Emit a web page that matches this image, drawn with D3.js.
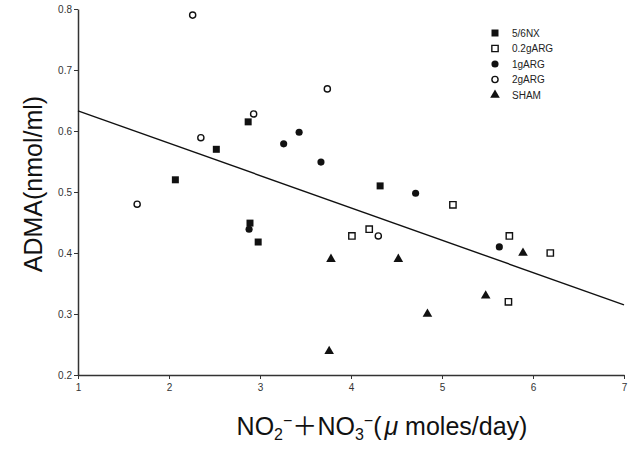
<!DOCTYPE html>
<html>
<head>
<meta charset="utf-8">
<script src="https://cdn.jsdelivr.net/npm/d3@7"></script>
<style>
  body { margin: 0; background: #fff; }
  svg { display: block; font-family: "Liberation Sans", Arial, sans-serif; }
</style>
</head>
<body>
<svg width="629" height="453"></svg>
<script>
// groups, in legend order
const groups = ["5/6NX", "0.2gARG", "1gARG", "2gARG", "SHAM"];

// NO2- + NO3- (x) and ADMA (y) for every group
const nxX    = [2.07, 2.52, 2.87, 2.89, 2.98, 4.32];
const nxY    = [0.52, 0.57, 0.615, 0.449, 0.418, 0.51];
const arg02X = [4.01, 4.20, 5.12, 5.74, 5.73, 6.19];
const arg02Y = [0.428, 0.439, 0.479, 0.428, 0.32, 0.40];
const arg1X  = [2.88, 3.26, 3.43, 3.67, 4.71, 5.63];
const arg1Y  = [0.439, 0.579, 0.598, 0.549, 0.498, 0.41];
const arg2X  = [1.65, 2.26, 2.35, 2.93, 3.74, 4.30];
const arg2Y  = [0.48, 0.79, 0.589, 0.628, 0.669, 0.428];
const shamX  = [3.78, 3.76, 4.52, 4.84, 5.48, 5.89];
const shamY  = [0.39, 0.239, 0.39, 0.30, 0.33, 0.40];

// regression line, read at the ends of the x axis
const fitX = [1, 7];
const fitY = [0.633, 0.315];

const xTicks = [1, 2, 3, 4, 5, 6, 7];
const yTicks = [0.2, 0.3, 0.4, 0.5, 0.6, 0.7, 0.8];

const seriesX = [nxX, arg02X, arg1X, arg2X, shamX];
const seriesY = [nxY, arg02Y, arg1Y, arg2Y, shamY];

const svg = d3.select("svg");

const area = { left: 78, right: 624, top: 9, bottom: 375 };

const scX = d3.scaleLinear().domain([1, 7]).range([area.left, area.right]);
const scY = d3.scaleLinear().domain([0.2, 0.8]).range([area.bottom, area.top]);

// marker style per group
const markers = [
  { type: d3.symbolSquare,   size: 49, fill: "#111", stroke: "none" },
  { type: d3.symbolSquare,   size: 40, fill: "#fff", stroke: "#111" },
  { type: d3.symbolCircle,   size: 40, fill: "#111", stroke: "none" },
  { type: d3.symbolCircle,   size: 30, fill: "#fff", stroke: "#111" },
  { type: d3.symbolTriangle, size: 40, fill: "#111", stroke: "none" }
];

// axes
const axisX = d3.axisBottom(scX).tickValues(xTicks).tickSize(4).tickSizeOuter(0)
    .tickFormat(d3.format("d"));
const axisY = d3.axisLeft(scY).tickValues(yTicks).tickSize(4).tickSizeOuter(0)
    .tickFormat(d3.format(".1f"));

const gx = svg.append("g")
    .attr("transform", `translate(0, ${area.bottom})`)
    .call(axisX);
const gy = svg.append("g")
    .attr("transform", `translate(${area.left}, 0)`)
    .call(axisY);

[gx, gy].forEach(g => {
  g.select(".domain").attr("stroke", "#333").attr("stroke-width", 1.5);
  g.selectAll(".tick line").attr("stroke", "#333");
  g.selectAll(".tick text").attr("fill", "#333").style("font-size", "10px")
    .style("font-family", "\"Liberation Sans\", Arial, sans-serif");
});
gx.selectAll(".tick text").attr("dy", "0.9em");
gy.selectAll(".tick text").attr("x", -6);

// regression line
svg.append("line")
    .attr("x1", scX(fitX[0])).attr("y1", scY(fitY[0]))
    .attr("x2", scX(fitX[1])).attr("y2", scY(fitY[1]))
    .attr("stroke", "#111")
    .attr("stroke-width", 1.4);

// points
groups.forEach((name, i) => {
  const m = markers[i];
  const pts = seriesX[i].map((x, j) => ({ x: x, y: seriesY[i][j] }));
  svg.append("g").selectAll("path")
    .data(pts)
    .enter()
    .append("path")
    .attr("d", d3.symbol().type(m.type).size(m.size))
    .attr("transform", d => `translate(${scX(d.x)}, ${scY(d.y)})`)
    .attr("fill", m.fill)
    .attr("stroke", m.stroke)
    .attr("stroke-width", 1.4);
});

// legend
const legend = svg.append("g").attr("transform", "translate(495, 33)");
groups.forEach((name, i) => {
  const m = markers[i];
  const row = legend.append("g").attr("transform", `translate(0, ${i * 15.5})`);
  row.append("path")
    .attr("d", d3.symbol().type(m.type).size(m.size))
    .attr("fill", m.fill)
    .attr("stroke", m.stroke)
    .attr("stroke-width", 1.4);
  row.append("text")
    .attr("x", 17)
    .attr("dy", "0.35em")
    .style("font-size", "10px")
    .attr("fill", "#222")
    .text(name);
});

// y axis title
svg.append("text")
    .attr("transform", "translate(42, 184) rotate(-90)")
    .attr("text-anchor", "middle")
    .style("font-size", "25px")
    .attr("fill", "#111")
    .text("ADMA(nmol/ml)");

// x axis title
const xt = svg.append("text")
    .attr("x", 382)
    .attr("y", 435)
    .attr("text-anchor", "middle")
    .style("font-size", "25px")
    .attr("fill", "#111");
xt.append("tspan").text("NO");
xt.append("tspan").attr("dy", 5).style("font-size", "16px").text("2");
xt.append("tspan").attr("dy", -14).style("font-size", "16px").text("−");
xt.append("tspan").attr("dy", 9)
    .style("font-family", "\"Noto Sans CJK JP\", sans-serif").text("＋");
xt.append("tspan").text("NO");
xt.append("tspan").attr("dy", 5).style("font-size", "16px").text("3");
xt.append("tspan").attr("dy", -14).style("font-size", "16px").text("−");
xt.append("tspan").attr("dy", 9).text("(");
xt.append("tspan").attr("dx", 3).style("font-style", "italic").text("μ");
xt.append("tspan").text(" moles/day)");
</script>
</body>
</html>
